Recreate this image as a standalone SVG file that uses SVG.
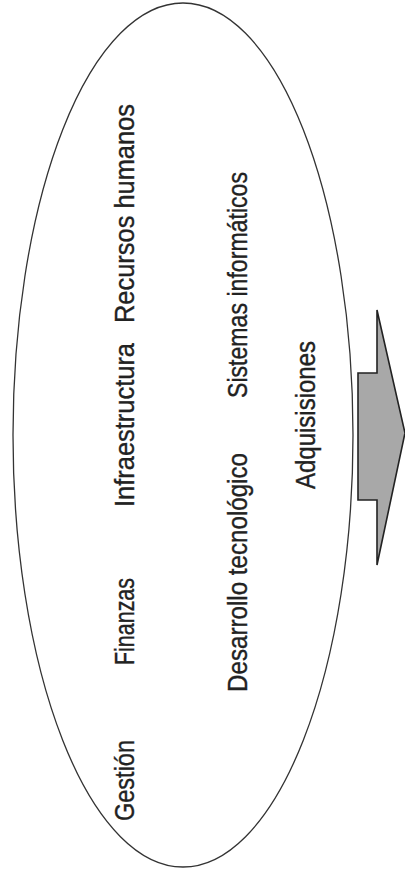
<svg xmlns="http://www.w3.org/2000/svg" width="405" height="873" viewBox="0 0 405 873">
<style>
.lbl{font-family:"Liberation Sans",Arial,sans-serif;font-size:27px;fill:#222;stroke:#222;stroke-width:0.35;}
.outline{fill:none;stroke:#333;stroke-width:1.3;}
.arrow{fill:#a8a8a8;stroke:#222;stroke-width:1.6;stroke-linejoin:miter;}
</style>
<rect width="405" height="873" fill="#fff"/>
<g id="ellipse"><ellipse class="outline" cx="183" cy="435" rx="170" ry="432"/></g>
<g id="recursos-humanos"><text class="lbl" transform="translate(134,323) rotate(-90)" textLength="219" lengthAdjust="spacingAndGlyphs">Recursos humanos</text></g>
<g id="infraestructura"><text class="lbl" transform="translate(134,507) rotate(-90)" textLength="164" lengthAdjust="spacingAndGlyphs">Infraestructura</text></g>
<g id="finanzas"><text class="lbl" transform="translate(134,665) rotate(-90)" textLength="87" lengthAdjust="spacingAndGlyphs">Finanzas</text></g>
<g id="gestion"><text class="lbl" transform="translate(134,821) rotate(-90)" textLength="81" lengthAdjust="spacingAndGlyphs">Gestión</text></g>
<g id="sistemas-informaticos"><text class="lbl" transform="translate(247,398) rotate(-90)" textLength="226" lengthAdjust="spacingAndGlyphs">Sistemas informáticos</text></g>
<g id="desarrollo-tecnologico"><text class="lbl" transform="translate(247,692) rotate(-90)" textLength="239" lengthAdjust="spacingAndGlyphs">Desarrollo tecnológico</text></g>
<g id="adquisisiones"><text class="lbl" transform="translate(315,489) rotate(-90)" textLength="148" lengthAdjust="spacingAndGlyphs">Adquisisiones</text></g>
<g id="connectors"><polygon class="arrow" points="358,373 377,373 377,310 405,433 377,565 377,500 358,500"/></g>
</svg>
